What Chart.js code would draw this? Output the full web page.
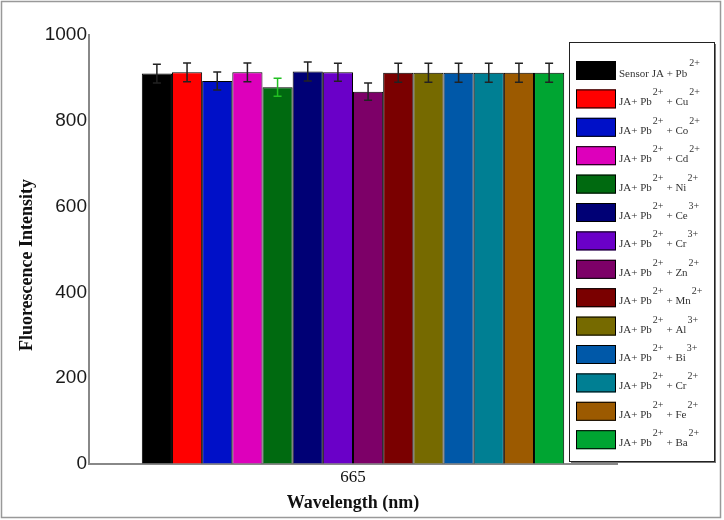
<!DOCTYPE html>
<html>
<head>
<meta charset="utf-8">
<script src="https://cdn.jsdelivr.net/npm/chart.js@4/dist/chart.umd.min.js"></script>
<style>
html,body{margin:0;padding:0;background:#fff;}
#wrap{width:724px;height:520px;}
</style>
</head>
<body>
<div id="wrap"><canvas id="c" width="724" height="520"></canvas></div>
<script>
// ---- data ----
const categories = ['665'];
const ions = ['', 'Cu', 'Co', 'Cd', 'Ni', 'Ce', 'Cr', 'Zn', 'Mn', 'Al', 'Bi', 'Cr', 'Fe', 'Ba'];
const charges = ['', '2+', '2+', '2+', '2+', '3+', '3+', '2+', '2+', '3+', '3+', '2+', '2+', '2+'];
const values = [910, 913, 893, 913, 878, 915, 913, 868, 912, 912, 912, 912, 912, 912];
const errors = [22, 22, 21, 22, 21, 22, 21, 20, 22, 22, 22, 22, 22, 22];
const colors = ['#000000', '#FF0000', '#0010C8', '#DD00BB', '#006A10', '#000075', '#6A00C8',
                '#7D0068', '#7A0000', '#766A00', '#0058A8', '#007F93', '#9C5A00', '#00A532'];
const errColors = ['#222', '#222', '#222', '#222', '#22C022', '#222', '#222',
                   '#222', '#222', '#222', '#222', '#222', '#222', '#222'];
const yTicks = [0, 200, 400, 600, 800, 1000];
const xTitle = 'Wavelength (nm)';
const yTitle = 'Fluorescence Intensity';

const supMap = {'2':'\u00B2','3':'\u00B3','+':'\u207A'};
const sup = s => s.split('').map(ch => supMap[ch] || ch).join('');
const seriesLabels = ions.map((ion, i) => i === 0 ? 'Sensor JA + Pb' + sup('2+')
  : 'JA+ Pb' + sup('2+') + ' + ' + ion + sup(charges[i]));

const datasets = values.map((v, i) => ({
  label: seriesLabels[i],
  data: [v],
  backgroundColor: colors[i],
  borderColor: '#000',
  borderWidth: 1,
  borderSkipped: 'bottom',
  barPercentage: 1.0,
  categoryPercentage: 0.8
}));

const errorBarPlugin = {
  id: 'errorBars',
  afterDatasetsDraw(chart) {
    const ctx = chart.ctx, ys = chart.scales.y;
    ctx.save();
    ctx.lineWidth = 1.5;
    chart.data.datasets.forEach((ds, i) => {
      const meta = chart.getDatasetMeta(i);
      meta.data.forEach((bar, j) => {
        const v = ds.data[j], e = errors[i];
        const x = bar.x;
        const yTop = ys.getPixelForValue(v + e), yBot = ys.getPixelForValue(v - e);
        ctx.strokeStyle = errColors[i];
        ctx.beginPath();
        ctx.moveTo(x, yTop); ctx.lineTo(x, yBot);
        ctx.moveTo(x - 4, yTop); ctx.lineTo(x + 4, yTop);
        ctx.moveTo(x - 4, yBot); ctx.lineTo(x + 4, yBot);
        ctx.stroke();
      });
    });
    ctx.restore();
  }
};

const decorPlugin = {
  id: 'decor',
  afterDraw(chart) {
    const ctx = chart.ctx;
    ctx.save();
    // y title
    ctx.font = 'bold 18px "Liberation Serif", "Times New Roman", serif';
    ctx.fillStyle = '#111';
    ctx.textAlign = 'center';
    ctx.textBaseline = 'middle';
    ctx.translate(27, 265);
    ctx.rotate(-Math.PI / 2);
    ctx.fillText(yTitle, 0, 0);
    ctx.restore();

    // legend box
    ctx.save();
    const bx = 569, by = 42, bw = 145, bh = 419;
    ctx.fillStyle = '#fff';
    ctx.fillRect(bx, by, bw, bh);
    ctx.fillStyle = '#777';
    ctx.fillRect(bx + bw, by + 2, 2, bh);
    ctx.fillRect(bx + 2, by + bh, bw, 2);
    ctx.strokeStyle = '#222';
    ctx.lineWidth = 1;
    ctx.strokeRect(bx + 0.5, by + 0.5, bw, bh);
    const mainFont = '11px "Liberation Serif", "Times New Roman", serif';
    const supFont = '10px "Liberation Serif", "Times New Roman", serif';
    chart.data.datasets.forEach((ds, i) => {
      const sy = 61 + i * 28.4;
      ctx.fillStyle = colors[i];
      ctx.fillRect(576, sy, 40, 19);
      ctx.strokeStyle = '#000';
      ctx.strokeRect(576.5, sy + 0.5, 39, 18);
      ctx.fillStyle = '#333';
      ctx.textAlign = 'left';
      ctx.textBaseline = 'alphabetic';
      const base = sy + 16;
      let x = 619;
      const part = (t, f, dy) => { ctx.font = f; ctx.fillText(t, x, base + dy); x += ctx.measureText(t).width; };
      if (i === 0) {
        part('Sensor JA + Pb', mainFont, 0);
        x += 2;
        part('2+', supFont, -11);
      } else {
        part('JA+ Pb', mainFont, 0);
        x += 1;
        part('2+', supFont, -10);
        x += 3;
        part('+ ' + ions[i], mainFont, 0);
        x += 1;
        part(charges[i], supFont, -10);
      }
    });
    ctx.restore();

    // outer frame
    ctx.save();
    ctx.strokeStyle = '#999';
    ctx.lineWidth = 1.5;
    ctx.strokeRect(1.5, 1.5, 719, 516);
    ctx.restore();
  }
};

new Chart(document.getElementById('c'), {
  type: 'bar',
  data: { labels: categories, datasets },
  options: {
    responsive: false,
    animation: false,
    devicePixelRatio: 1,
    layout: { padding: { left: 0, top: 35, right: 107, bottom: 0 } },
    plugins: { legend: { display: false }, tooltip: { enabled: false } },
    scales: {
      x: {
        grid: { drawOnChartArea: false, drawTicks: false },
        border: { display: true, color: '#888', width: 2 },
        ticks: { color: '#111', padding: 3, font: { family: '"Liberation Serif", "Times New Roman", serif', size: 17 } },
        title: { display: true, text: xTitle, color: '#111', padding: { top: 0, bottom: 6 },
                 font: { family: '"Liberation Serif", "Times New Roman", serif', size: 18, weight: 'bold' } },
        afterFit(s) { s.height = 56; }
      },
      y: {
        min: 0, max: 1000,
        afterBuildTicks(s) { s.ticks = yTicks.map(v => ({ value: v })); },
        grid: { drawOnChartArea: false, drawTicks: false },
        border: { display: true, color: '#888', width: 2 },
        ticks: { color: '#1a1a1a', padding: 2, callback: v => String(v),
                 font: { family: '"Liberation Sans", Arial, sans-serif', size: 19 } },
        afterFit(s) { s.width = 89; }
      }
    }
  },
  plugins: [errorBarPlugin, decorPlugin]
});
</script>
</body>
</html>
